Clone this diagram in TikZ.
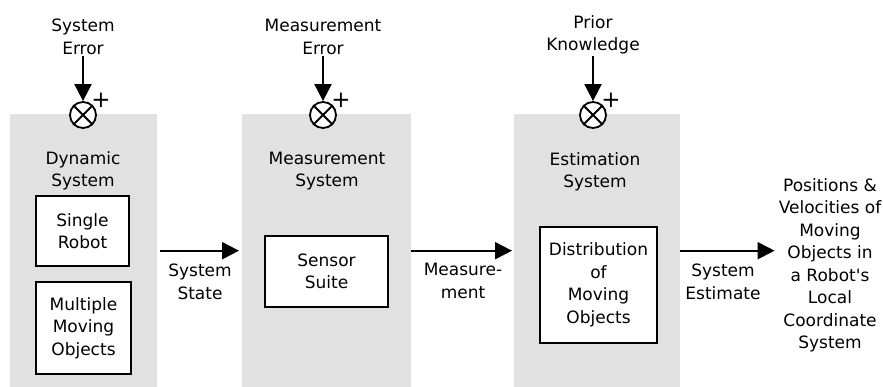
\documentclass[tikz,border=0pt]{standalone}
\usepackage{fontspec}
\setmainfont{DejaVu Sans}
\usetikzlibrary{arrows.meta}
\definecolor{panelgray}{RGB}{225,225,225}
\begin{document}
\begin{tikzpicture}[x=1pt,y=-1pt,
  font=\fontsize{17}{22.5}\selectfont,
  panel/.style={fill=panelgray, draw=none, minimum width=#1, minimum height=273pt,
                anchor=north west, inner sep=0pt},
  innerbox/.style={draw, line width=1.2pt, fill=white, align=center, inner sep=0pt},
  lbl/.style={align=center, inner sep=1pt},
  sumnode/.style={circle, draw, line width=1.8pt, minimum size=26pt, inner sep=0pt, fill=white},
  arr/.style={line width=2pt, -{Triangle[length=17pt,width=17pt]}},
  plus/.style={font=\fontsize{23}{23}\selectfont, inner sep=0pt}
]
\useasboundingbox (0,0) rectangle (883,387);

% three system panels
\node[panel=147pt] (p1) at (10,114) {};
\node[panel=169pt] (p2) at (242,114) {};
\node[panel=166pt] (p3) at (514,114) {};

% error / prior inputs with summing junctions
\node[lbl] (e1) at (83,37) {System\\Error};
\node[lbl] (e2) at (323,37) {Measurement\\Error};
\node[lbl] (e3) at (593,35) {Prior\\Knowledge};

\foreach \i/\x in {1/83, 2/323, 3/593} {
  \node[sumnode] (s\i) at (\x,115) {};
  \draw[line width=1.8pt] (s\i.45) -- (s\i.225) (s\i.135) -- (s\i.315);
  \node[plus] (pl\i) at (\x+18,100) {+};
  \draw[arr] (e\i) -- (s\i);
}

% panel titles
\node[lbl] (t1) at (83,171) {Dynamic\\System};
\node[lbl] (t2) at (327,171) {Measurement\\System};
\node[lbl] (t3) at (595,172) {Estimation\\System};

% inner boxes
\node[innerbox, minimum width=93pt, minimum height=70pt] (robot) at (82.5,231) {Single\\Robot};
\node[innerbox, minimum width=95pt, minimum height=92pt] (objs) at (83.5,328) {Multiple\\Moving\\Objects};
\node[innerbox, minimum width=123pt, minimum height=71pt] (suite) at (326.5,271.5) {Sensor\\Suite};
\node[innerbox, minimum width=117pt, minimum height=116pt] (dist) at (598.5,285) {Distribution\\of\\Moving\\Objects};

% output description
\node[lbl] (out) at (830,265.5) {Positions \&\\Velocities of\\Moving\\Objects in\\a Robot\textquotesingle s\\Local\\Coordinate\\System};

% signal flow
\draw[arr] ([xshift=3pt]p1.east) -- ([xshift=-3pt]p2.west);
\draw[arr] (p2.east) -- ([xshift=-2pt]p3.west);
\draw[arr] (p3.east) -- ([xshift=-3pt]p3.east -| out.west);

% signal labels
\node[lbl] (l1) at (200,282) {System\\State};
\node[lbl] (l2) at (463,281) {Measure-\\ment};
\node[lbl] (l3) at (723,282) {System\\Estimate};
\end{tikzpicture}
\end{document}
